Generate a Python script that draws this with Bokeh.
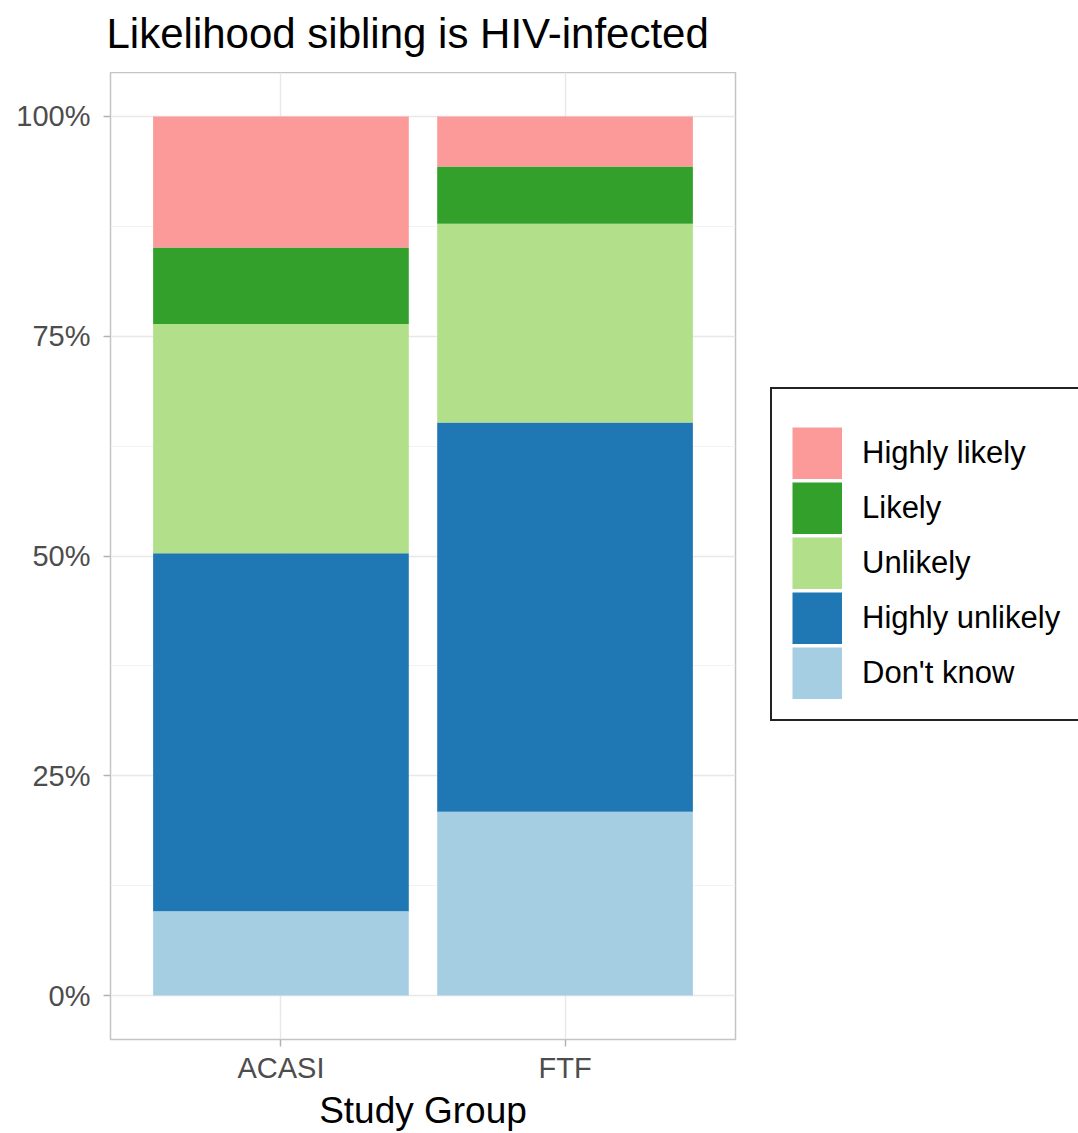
from bokeh.plotting import figure
from bokeh.models import (FactorRange, Range1d, FixedTicker, Legend, LegendItem,
                          ColumnDataSource)
from bokeh.layouts import row, column
from bokeh.embed import file_html
from bokeh.resources import INLINE

# ---- data ----
groups = ["ACASI", "FTF"]
responses = ["Don't know", "Highly unlikely", "Unlikely", "Likely", "Highly likely"]
colors = ["#A6CEE3", "#1F78B4", "#B2DF8A", "#33A02C", "#FB9A99"]
acasi_share = [0.096, 0.407, 0.261, 0.087, 0.149]
ftf_share = [0.209, 0.443, 0.226, 0.065, 0.057]
y_ticks = [0.0, 0.25, 0.5, 0.75, 1.0]
y_minor = [0.125, 0.375, 0.625, 0.875]
y_tick_labels = ["0%", "25%", "50%", "75%", "100%"]

title_text = "Likelihood sibling is HIV-infected"
x_title = "Study Group"

FONT = "Liberation Sans"

data = {"group": groups}
for i, r in enumerate(responses):
    data[r] = [acasi_share[i], ftf_share[i]]
source = ColumnDataSource(data)

# ---- title strip ----
tf = figure(
    width=1078, height=72,
    x_range=Range1d(0, 1), y_range=Range1d(0, 1),
    x_axis_type=None, y_axis_type=None,
    output_backend="svg", toolbar_location=None,
    min_border=0, min_border_left=110, min_border_right=0,
    min_border_top=0, min_border_bottom=0,
    outline_line_color=None,
    background_fill_color="white", border_fill_color="white",
)
tf.grid.visible = False
tf.title.text = title_text
tf.title.text_font = FONT
tf.title.text_font_size = "42px"
tf.title.text_font_style = "normal"
tf.title.text_color = "black"
tf.title.align = "left"
tf.title.offset = -4
tf.title.standoff = 14

# ---- main plot ----
p = figure(
    x_range=FactorRange(*groups, range_padding=0.1),
    y_range=Range1d(-0.05, 1.05),
    width=760, height=1061,
    output_backend="svg", toolbar_location=None,
    min_border_left=110, min_border_right=25,
    min_border_top=0, min_border_bottom=93,
    background_fill_color="white", border_fill_color="white",
)
p.title.text = ""
p.title.standoff = 0

renderers = p.vbar_stack(responses, x="group", width=0.9, fill_color=colors,
                         line_color=None, source=source)

# axes
p.yaxis.ticker = FixedTicker(ticks=y_ticks, minor_ticks=y_minor)
p.yaxis.major_label_overrides = {t: l for t, l in zip(y_ticks, y_tick_labels)}
for ax in (p.xaxis, p.yaxis):
    ax.axis_line_color = None
    ax.major_tick_line_color = "#B3B3B3"
    ax.major_tick_line_width = 1.5
    ax.major_tick_out = 7
    ax.major_tick_in = 0
    ax.minor_tick_line_color = None
    ax.major_label_text_font = FONT
    ax.major_label_text_font_size = "29px"
    ax.major_label_text_color = "#4D4D4D"
p.yaxis.major_label_standoff = 13
p.xaxis.major_label_standoff = 5
p.xaxis.axis_label = x_title
p.xaxis.axis_label_text_font = FONT
p.xaxis.axis_label_text_font_size = "37px"
p.xaxis.axis_label_text_font_style = "normal"
p.xaxis.axis_label_text_color = "black"
p.xaxis.axis_label_standoff = 3

# grid
p.xgrid.grid_line_color = "#E8E8E8"
p.xgrid.grid_line_width = 1.5
p.ygrid.grid_line_color = "#E8E8E8"
p.ygrid.grid_line_width = 1.5
p.ygrid.minor_grid_line_color = "#F2F2F2"
p.ygrid.minor_grid_line_width = 1
p.outline_line_color = "#C4C4C4"
p.outline_line_width = 1.5

# ---- legend panel (separate canvas so the legend is not clipped by the plot frame) ----
lp = figure(
    width=318, height=1061,
    x_range=Range1d(0, 1), y_range=Range1d(0, 1),
    x_axis_type=None, y_axis_type=None,
    output_backend="svg", toolbar_location=None,
    min_border=0, min_border_left=0, min_border_right=0,
    min_border_top=0, min_border_bottom=0,
    outline_line_color=None,
    background_fill_color="white", border_fill_color="white",
)
lp.grid.visible = False
# key swatches: thick butt-capped lines (outside the visible range) give full-size colour keys
key_renderers = [lp.line(x=[5, 6], y=[5, 5], line_color=c, line_width=52, line_cap="butt")
                 for c in colors]
items = [LegendItem(label=r, renderers=[rend]) for r, rend in zip(responses, key_renderers)]
items = items[::-1]   # Highly likely on top
legend = Legend(
    items=items,
    location=(10, 318),
    orientation="vertical",
    title=" ",
    title_text_font_size="12px",
    title_standoff=4,
    glyph_width=50, glyph_height=52,
    label_height=52, label_width=150,
    label_standoff=20,
    spacing=3,
    padding=20,
    margin=0,
    label_text_font=FONT,
    label_text_font_size="31px",
    label_text_color="black",
    label_text_baseline="middle",
    border_line_color="#222222",
    border_line_alpha=1.0,
    border_line_width=2.5,
    background_fill_color="white",
    background_fill_alpha=1.0,
)
lp.add_layout(legend, "center")

layout = column(tf, row(p, lp))
open("out.html", "w").write(file_html(layout, INLINE))
